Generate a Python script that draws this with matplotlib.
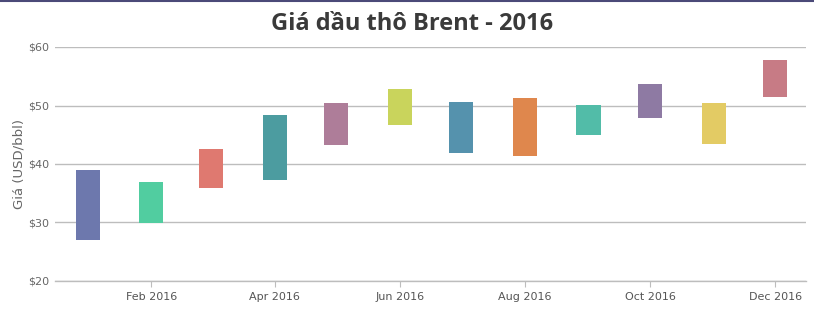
import matplotlib
matplotlib.use("Agg")
import matplotlib.pyplot as plt
import matplotlib.dates as mdates
from datetime import datetime, timedelta

months = ["2016-01-01", "2016-02-01", "2016-03-01", "2016-04-01", "2016-05-01", "2016-06-01",
          "2016-07-01", "2016-08-01", "2016-09-01", "2016-10-01", "2016-11-01", "2016-12-01"]
low = [27.0, 29.9, 35.9, 37.3, 43.3, 46.6, 41.8, 41.4, 45.0, 47.9, 43.5, 51.45]
high = [39.0, 36.9, 42.6, 48.4, 50.5, 52.8, 50.65, 51.2, 50.1, 53.7, 50.4, 57.8]
colors = ["#6D78AD", "#51CDA0", "#DF7970", "#4C9CA0", "#AE7D99", "#C9D45C",
          "#5592AD", "#DF874D", "#52BCA8", "#8E7AA3", "#E3CB64", "#C77B85"]
tick_dates = ["2016-02-01", "2016-04-01", "2016-06-01", "2016-08-01", "2016-10-01", "2016-12-01"]
tick_labels = ["Feb 2016", "Apr 2016", "Jun 2016", "Aug 2016", "Oct 2016", "Dec 2016"]
yticks = [20, 30, 40, 50, 60]
title = "Giá dầu thô Brent - 2016"
ylabel = "Giá (USD/bbl)"

W, H = 814, 313
fig = plt.figure(figsize=(W / 100, H / 100), dpi=100)
ax = fig.add_axes([55 / W, (H - 281) / H, (806 - 55) / W, (281 - 47) / H])

x = [mdates.date2num(datetime.strptime(m, "%Y-%m-%d")) for m in months]
heights = [h - l for h, l in zip(high, low)]
ax.bar(x, heights, bottom=low, width=11.7, color=colors, zorder=3)

ax.set_ylim(20, 60)
x0 = mdates.date2num(datetime(2016, 1, 1) - timedelta(days=16))
x1 = mdates.date2num(datetime(2016, 12, 1) + timedelta(days=15))
ax.set_xlim(x0, x1)

ax.set_yticks(yticks)
ax.set_yticklabels([f"${v}" for v in yticks])
tx = [mdates.date2num(datetime.strptime(d, "%Y-%m-%d")) for d in tick_dates]
ax.set_xticks(tx)
ax.set_xticklabels(tick_labels)

ax.grid(axis="y", color="#BDBDBD", linewidth=1.0, zorder=0)
for s in ["top", "right", "left"]:
    ax.spines[s].set_visible(False)
ax.spines["bottom"].set_color("#BDBDBD")
ax.spines["bottom"].set_linewidth(1.0)
ax.tick_params(axis="y", length=0, pad=4, labelsize=8, labelcolor="#666666")
ax.tick_params(axis="x", length=4, color="#BDBDBD", pad=4, labelsize=8, labelcolor="#555555")

ax.set_ylabel(ylabel, fontsize=9.5, color="#666666", labelpad=2)
fig.text(412 / W, 1 - 24 / H, title, ha="center", va="center", fontsize=17,
         fontweight="bold", color="#3A3A3A", family=["Open Sans", "DejaVu Sans"])

# top border line
fig.add_artist(plt.Line2D([0, 1], [1 - 0.8 / H, 1 - 0.8 / H], color="#4B4A78", linewidth=1.5,
                          transform=fig.transFigure))

fig.savefig("out.png", dpi=100)
